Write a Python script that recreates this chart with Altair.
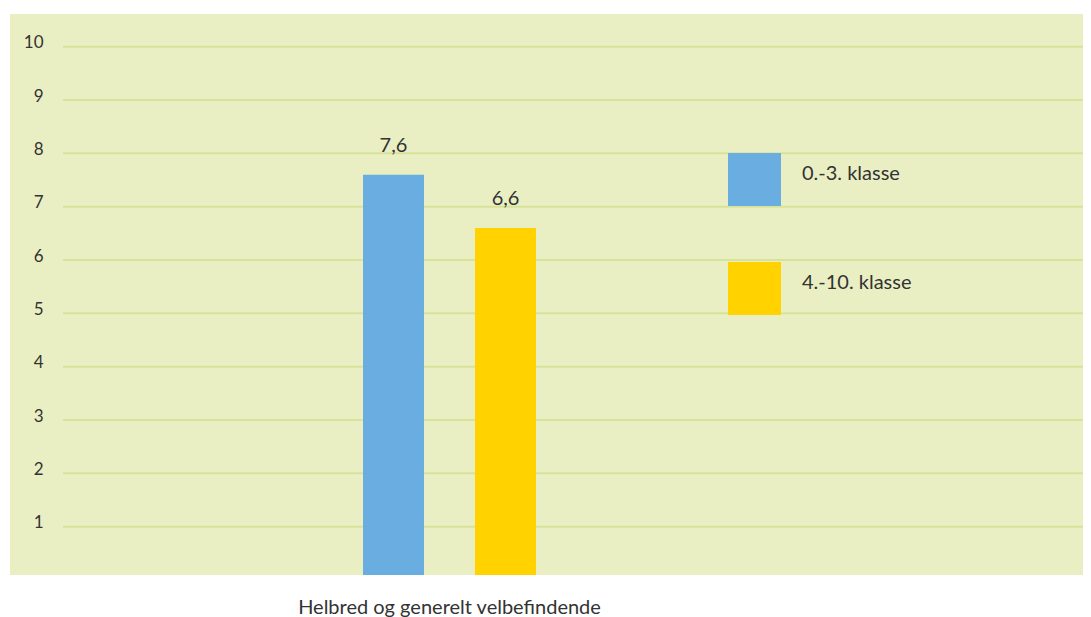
import altair as alt
import pandas as pd

category = ["Helbred og generelt velbefindende"]
series = ["0.-3. klasse", "4.-10. klasse"]
values = [7.6, 6.6]
value_labels = ["7,6", "6,6"]
y_ticks = [1, 2, 3, 4, 5, 6, 7, 8, 9, 10]
colors = ["#6AADE0", "#FFD200"]

df = pd.DataFrame({
    "kategori": category * 2,
    "klasse": series,
    "verdi": values,
    "etikett": value_labels,
})
grid = pd.DataFrame({"tick": y_ticks})

W, H = 1073, 561
FONT = "Lato"
TXT = "#333333"

yscale = alt.Scale(domain=[0.094, 10.6125], zero=False, nice=False)
xscale = alt.Scale(domain=category, range=[353, 526], paddingInner=0, paddingOuter=0)
xoff_scale = alt.Scale(domain=series, paddingInner=0.4554, paddingOuter=0)
color_scale = alt.Scale(domain=series, range=colors)

yaxis = alt.Axis(values=y_ticks, grid=False, ticks=False, tickSize=0, domain=False,
                 offset=-33, labelAlign="right", labelBaseline="alphabetic",
                 labelPadding=0, labelOffset=1, labelFont=FONT, labelFontSize=17,
                 labelColor=TXT, title=None)
xaxis = alt.Axis(ticks=False, domain=False, labelAngle=0, labelBaseline="alphabetic",
                 labelPadding=38, labelFont=FONT, labelFontSize=20, labelColor=TXT,
                 labelLimit=0, title=None)

rules = alt.Chart(grid).mark_rule(color="#D8E39A", strokeWidth=2).encode(
    y=alt.Y("tick:Q", scale=yscale, axis=yaxis),
    x=alt.value(53),
    x2=alt.value(W),
)

bars = alt.Chart(df).mark_bar(clip=True).encode(
    x=alt.X("kategori:N", scale=xscale, axis=xaxis),
    xOffset=alt.XOffset("klasse:N", scale=xoff_scale),
    y=alt.Y("verdi:Q", scale=yscale, axis=yaxis),
    color=alt.Color("klasse:N", scale=color_scale,
                    legend=alt.Legend(title=None, orient="none", legendX=718, legendY=139,
                                      symbolType="square", symbolSize=2809,
                                      symbolStrokeWidth=0, symbolOpacity=1,
                                      rowPadding=56, labelOffset=21, padding=0,
                                      labelBaseline="alphabetic",
                                      labelFont=FONT, labelFontSize=20, labelColor=TXT)),
)

labels = alt.Chart(df).mark_text(dy=-23, baseline="alphabetic", font=FONT, fontSize=20,
                                 color=TXT).encode(
    x=alt.X("kategori:N", scale=xscale, axis=xaxis),
    xOffset=alt.XOffset("klasse:N", scale=xoff_scale),
    y=alt.Y("verdi:Q", scale=yscale, axis=yaxis),
    text="etikett:N",
)

chart = alt.layer(rules, bars, labels).properties(
    width=W, height=H,
    background="white",
    autosize=alt.AutoSizeParams(type="none"),
    padding={"left": 2, "top": 6, "right": 0, "bottom": 46},
).configure_view(fill="#E9EFC3", strokeWidth=0)

chart.save("out.html", embed_options={"renderer": "svg", "actions": False})
